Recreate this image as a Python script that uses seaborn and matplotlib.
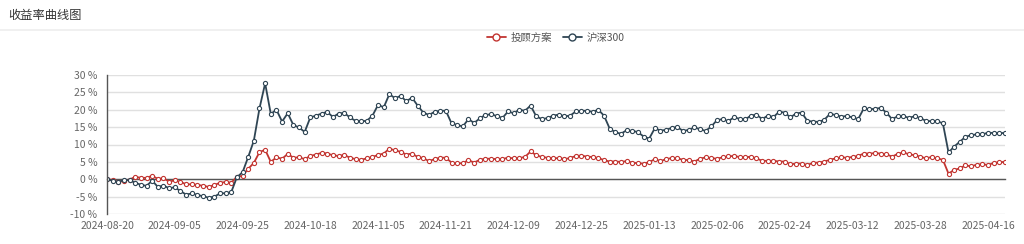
import numpy as np
import pandas as pd
import matplotlib
matplotlib.use("Agg")
import matplotlib.pyplot as plt
from matplotlib.lines import Line2D
import seaborn as sns

# ---------------- data ----------------
series_names = ["投顾方案", "沪深300"]

plan_values = [
    0.0, -0.2, -0.8, -0.4, -0.1, 0.7, 0.4, 0.4, 1.0, 0.1,
    0.3, -0.7, -0.3, -0.8, -1.4, -1.5, -1.6, -1.9, -2.2, -1.7,
    -1.0, -0.8, -1.0, 0.7, 1.0, 3.0, 4.7, 7.8, 8.5, 5.0,
    6.3, 5.9, 7.3, 6.2, 6.3, 5.8, 6.7, 7.1, 7.6, 7.4,
    6.9, 6.7, 7.0, 6.2, 5.8, 5.6, 6.0, 6.4, 7.0, 7.4,
    8.8, 8.3, 7.9, 7.1, 7.4, 6.4, 6.1, 5.2, 5.8, 6.2,
    6.2, 4.8, 4.6, 4.6, 5.5, 4.8, 5.6, 5.9, 5.9, 5.8,
    5.8, 6.2, 6.0, 6.1, 6.4, 8.0, 6.9, 6.4, 6.2, 6.0,
    6.1, 5.8, 6.1, 6.7, 6.8, 6.5, 6.4, 6.1, 5.5, 5.1,
    5.1, 5.0, 5.2, 4.8, 4.6, 4.5, 4.9, 5.8, 5.2, 5.8,
    6.1, 6.0, 5.6, 5.5, 5.1, 5.9, 6.3, 6.1, 5.9, 6.3,
    6.6, 6.7, 6.4, 6.3, 6.5, 6.0, 5.3, 5.3, 5.3, 5.1,
    5.1, 4.3, 4.5, 4.5, 4.1, 4.7, 4.8, 5.1, 5.6, 6.0,
    6.3, 6.2, 6.4, 6.7, 7.4, 7.4, 7.5, 7.4, 7.2, 6.5,
    7.3, 7.7, 7.2, 6.9, 6.5, 6.0, 6.4, 6.0, 5.6, 1.6,
    2.7, 3.1, 4.0, 3.7, 4.2, 4.3, 4.1, 4.7, 4.9, 5.0,
]

hs300_values = [
    0.0, -0.4, -0.8, -0.2, -0.3, -1.0, -1.6, -1.9, -0.4, -2.2,
    -1.8, -2.6, -2.3, -3.4, -4.4, -4.1, -4.5, -4.9, -5.3, -5.0,
    -4.1, -4.0, -3.7, 0.6, 2.0, 6.4, 11.1, 20.4, 27.6, 18.8,
    20.0, 16.6, 19.0, 15.6, 14.9, 13.6, 17.8, 18.3, 18.9, 19.4,
    17.9, 18.9, 19.1, 17.8, 16.8, 16.7, 16.8, 18.3, 21.4, 20.7,
    24.5, 23.3, 24.0, 22.4, 23.5, 21.2, 19.2, 18.5, 19.4, 19.7,
    19.7, 16.1, 15.6, 15.2, 17.3, 16.2, 17.5, 18.5, 18.7, 18.2,
    17.6, 19.5, 19.0, 20.0, 19.7, 21.2, 18.1, 17.3, 17.6, 18.3,
    18.6, 18.1, 18.3, 19.5, 19.7, 19.7, 19.4, 20.0, 18.3, 14.6,
    13.5, 13.1, 14.1, 13.9, 13.6, 12.3, 11.7, 14.7, 14.0, 14.2,
    14.8, 15.0, 13.9, 14.2, 14.9, 14.4, 13.9, 15.2, 17.0, 17.3,
    16.7, 17.8, 17.4, 17.2, 18.3, 18.6, 17.3, 18.3, 17.9, 19.4,
    19.2, 17.8, 18.9, 19.2, 16.8, 16.6, 16.5, 17.1, 18.8, 18.5,
    18.0, 18.2, 17.8, 17.3, 20.4, 20.1, 20.3, 20.5, 19.2, 17.3,
    18.1, 18.1, 17.7, 18.1, 17.6, 16.8, 16.7, 16.7, 16.1, 7.7,
    9.4, 10.8, 12.2, 12.7, 12.9, 12.9, 13.4, 13.3, 13.3, 13.3,
]

tick_labels = [
    "2024-08-20", "2024-09-05", "2024-09-25", "2024-10-18", "2024-11-05",
    "2024-11-21", "2024-12-09", "2024-12-25", "2025-01-13", "2025-02-06",
    "2025-02-24", "2025-03-12", "2025-03-28", "2025-04-16",
]
label_step = 12
y_ticks = [-10, -5, 0, 5, 10, 15, 20, 25, 30]

# ---------------- styling ----------------
sns.set_theme(style="white")
plt.rcParams["font.family"] = ["Noto Sans CJK SC", "DejaVu Sans"]

colors = {"投顾方案": "#c23531", "沪深300": "#2f4554"}
axis_color = "#555555"
text_color = "#666666"

n = len(plan_values)
df = pd.DataFrame({
    "idx": list(range(n)) * 2,
    "value": plan_values + hs300_values,
    "series": [series_names[0]] * n + [series_names[1]] * n,
})

fig = plt.figure(figsize=(10.24, 2.44), dpi=100)
ax = fig.add_axes([107 / 1024, 30 / 244, (1005 - 107) / 1024, (214 - 75) / 244])

sns.lineplot(
    data=df, x="idx", y="value", hue="series", hue_order=series_names,
    palette=colors, marker="o", markersize=3.0, markerfacecolor="white",
    markeredgewidth=0.8, linewidth=1.3, legend=False, ax=ax,
    estimator=None, sort=False,
)
for line in ax.get_lines():
    line.set_markeredgecolor(line.get_color())

ax.set_xlim(0, n - 1)
ax.set_ylim(-10, 30)
ax.set_xlabel("")
ax.set_ylabel("")

# grid
ax.set_yticks(y_ticks)
ax.set_yticklabels([f"{v} %" for v in y_ticks], color=text_color, fontsize=7.5)
ax.yaxis.grid(True, color="#e0e0e0", linewidth=1.0)
ax.xaxis.grid(False)
ax.set_axisbelow(True)

# spines
for s in ["top", "right"]:
    ax.spines[s].set_visible(False)
ax.spines["left"].set_color(axis_color)
ax.spines["left"].set_linewidth(1.0)
ax.spines["bottom"].set_position(("data", 0))
ax.spines["bottom"].set_color(axis_color)
ax.spines["bottom"].set_linewidth(1.0)
ax.spines["bottom"].set_zorder(1.5)

ax.set_xticks(list(range(0, n, label_step)))
ax.set_xticklabels(tick_labels, color=text_color, fontsize=7.5)
ax.tick_params(axis="x", direction="out", length=4, width=1, color=axis_color, pad=26)
ax.tick_params(axis="y", direction="out", length=4, width=1, color=axis_color, pad=3)

# title & separator
fig.text(8 / 1024, 1 - 15 / 244, "收益率曲线图", fontsize=8.8, color="#333333",
         ha="left", va="center")
fig.add_artist(Line2D([0, 1], [1 - 29.5 / 244, 1 - 29.5 / 244],
                      transform=fig.transFigure, color="#eeeeee", linewidth=1.2))

# legend
handles = [
    Line2D([0], [0], color=colors[name], linewidth=1.3, marker="o",
           markersize=5, markerfacecolor="white", markeredgecolor=colors[name],
           markeredgewidth=1.0)
    for name in series_names
]
leg = fig.legend(handles, series_names, loc="center", bbox_to_anchor=(556 / 1024, 1 - 38 / 244),
                 ncol=2, frameon=False, fontsize=7.5, handlelength=1.8,
                 handletextpad=0.5, columnspacing=1.0, labelcolor="#555555")

fig.savefig("out.png", dpi=100)
